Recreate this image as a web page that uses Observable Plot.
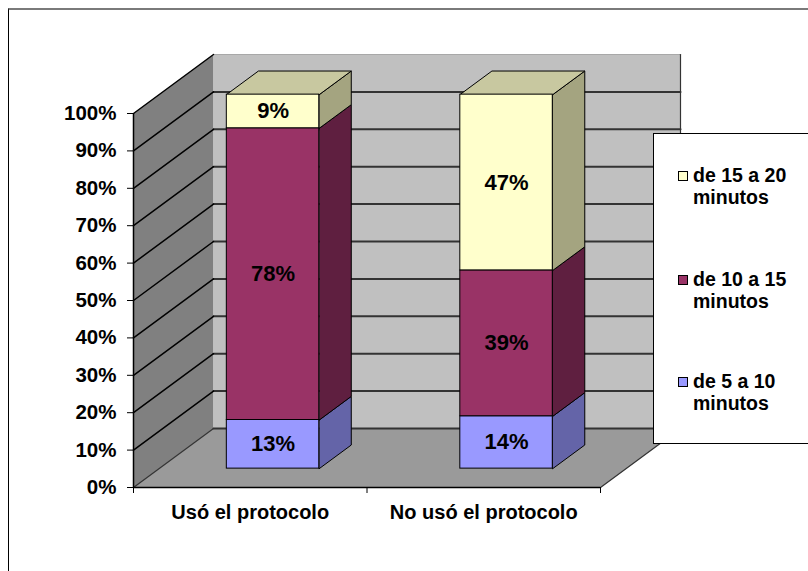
<!DOCTYPE html>
<html>
<head>
<meta charset="utf-8">
<script src="https://cdn.jsdelivr.net/npm/d3@7"></script>
<script src="https://cdn.jsdelivr.net/npm/@observablehq/plot@0.6"></script>
<style>
  body { margin: 0; background: #fff; }
  #wrap { position: relative; width: 808px; height: 571px; overflow: hidden;
          font-family: "Liberation Sans", Arial, sans-serif; font-weight: bold; }
  #chart { position: absolute; left: 0; top: 0; }
  #frame { position: absolute; left: 8px; top: 8px; width: 900px; height: 700px;
           border-top: 2px solid #7a7a7a; border-left: 1.5px solid #000; pointer-events: none; }
  #legend { position: absolute; left: 653px; top: 133px; width: 200px; height: 309px;
            border: 1px solid #000; background: #fff; }
  .item { position: absolute; left: 39px; font-size: 19.5px; line-height: 22px; color: #000; white-space: nowrap; }
  .sw { position: absolute; left: -15px; top: 7px; width: 8px; height: 8px; border: 1.5px solid #000; }
</style>
</head>
<body>
<div id="wrap">
  <div id="chart"></div>
  <div id="frame"></div>
  <div id="legend"></div>
</div>
<script>
// ---- data ----
const categories = ["Usó el protocolo", "No usó el protocolo"];
const seriesNames = ["de 5 a 10 minutos", "de 10 a 15 minutos", "de 15 a 20 minutos"];
const de5a10 = [13, 14];
const de10a15 = [78, 39];
const de15a20 = [9, 47];
const yTicks = [0, 10, 20, 30, 40, 50, 60, 70, 80, 90, 100];

// ---- styles ----
const frontColors = ["#9999ff", "#993366", "#ffffcc"];
const sideColors  = ["#6464a8", "#5f1f40", "#a4a480"];
const topColors   = ["#c4c4ff", "#b85888", "#c8c8a0"];

// ---- geometry (oblique 3D projection in data units) ----
const W = 808, H = 571, mL = 133, mR = 208, mT = 113, mB = 84;
const pxPerX = (W - mL - mR) / 2;
const pxPerY = (H - mT - mB) / 100;
const DX = 80 / pxPerX, DY = 59 / pxPerY;
const P = (x, y, z) => ({x: x + DX * z, y: y + DY * z});
const zFront = 0.32, zBack = 0.72, halfW = 0.198, shift = -0.012;

function poly(id, color, pts) {
  return pts.map(([x, y, z]) => ({id, color, ...P(x, y, z)}));
}
function seg(id, a, b) {
  return [{id, ...P(...a)}, {id, ...P(...b)}];
}

const walls = [
  ...poly("left", "#808080", [[0,0,0],[0,0,1],[0,100,1],[0,100,0]]),
  ...poly("back", "#c0c0c0", [[0,0,1],[2,0,1],[2,100,1],[0,100,1]]),
  ...poly("floor", "#9a9a9a", [[0,0,0],[2,0,0],[2,0,1],[0,0,1]])
];
const backGrid = yTicks.filter(v => v < 100).flatMap(v => seg("b" + v, [0, v, 1], [2, v, 1]));
const leftGrid = yTicks.filter(v => v > 0).flatMap(v => seg("l" + v, [0, v, 0], [0, v, 1]));
const edges = [
  ...seg("e1", [0, 0, 0], [0, 0, 1]),
  ...seg("e2", [2, 0, 0], [2, 0, 1]),
  ...seg("e3", [2, 0, 1], [2, 100, 1])
];
const topEdge = seg("t", [0, 100, 1], [2, 100, 1]);

const seriesValues = [de5a10, de10a15, de15a20];
const segs = [];
categories.forEach((cat, i) => {
  let base = 0;
  seriesValues.forEach((vals, s) => {
    const v = vals[i];
    segs.push({cat, i, s, value: v, y1: base, y2: base + v,
               c: i + 0.5 + shift, top: s === seriesValues.length - 1});
    base += v;
  });
});
const sides = segs.flatMap(d => {
  const xr = d.c + halfW;
  return poly(`side${d.i}-${d.s}`, sideColors[d.s],
    [[xr, d.y1, zFront], [xr, d.y1, zBack], [xr, d.y2, zBack], [xr, d.y2, zFront]]);
});
const tops = segs.filter(d => d.top).flatMap(d => {
  const xl = d.c - halfW, xr = d.c + halfW;
  return poly(`top${d.i}`, topColors[d.s],
    [[xl, d.y2, zFront], [xr, d.y2, zFront], [xr, d.y2, zBack], [xl, d.y2, zBack]]);
});

const chart = Plot.plot({
  width: W, height: H,
  marginLeft: mL, marginRight: mR, marginTop: mT, marginBottom: mB,
  x: {domain: [0, 2], label: null},
  y: {domain: [0, 100], label: null},
  color: {type: "identity"},
  style: {fontFamily: "'Liberation Sans', Arial, sans-serif", fontWeight: "bold",
          fontSize: "20.5px", background: "transparent", color: "#000"},
  marks: [
    Plot.line(walls, {x: "x", y: "y", z: "id", fill: "color", stroke: "none", curve: "linear-closed"}),
    Plot.line(topEdge, {x: "x", y: "y", z: "id", stroke: "#a8a8a8", strokeWidth: 1}),
    Plot.line(backGrid, {x: "x", y: "y", z: "id", stroke: "#333", strokeWidth: 2}),
    Plot.line(leftGrid, {x: "x", y: "y", z: "id", stroke: "#000", strokeWidth: 1.5}),
    Plot.line(edges, {x: "x", y: "y", z: "id", stroke: "#333", strokeWidth: 1.2}),
    Plot.ruleX([0], {y1: 0, y2: 100, stroke: "#000", strokeWidth: 1.5}),
    Plot.ruleY([0], {x1: 0, x2: 2, stroke: "#000", strokeWidth: 1.5}),
    Plot.line(sides, {x: "x", y: "y", z: "id", fill: "color", stroke: "#000", strokeWidth: 1, curve: "linear-closed"}),
    Plot.line(tops, {x: "x", y: "y", z: "id", fill: "color", stroke: "#000", strokeWidth: 1, curve: "linear-closed"}),
    Plot.rect(segs, {
      x1: d => d.c - halfW + DX * zFront, x2: d => d.c + halfW + DX * zFront,
      y1: d => d.y1 + DY * zFront, y2: d => d.y2 + DY * zFront,
      fill: d => frontColors[d.s], stroke: "#000", strokeWidth: 1
    }),
    Plot.text(segs, {
      x: d => d.c + DX * zFront, y: d => (d.y1 + d.y2) / 2 + DY * zFront,
      text: d => d.value + "%", fontSize: 22, fontWeight: "bold", fill: "#000"
    }),
    Plot.axisY({ticks: yTicks, tickFormat: d => d + "%", tickSize: 6, tickPadding: 11,
                label: null, fontSize: 20.5, fontWeight: "bold"}),
    Plot.axisX({ticks: [0, 1, 2], tickSize: 6, tickFormat: () => "", label: null}),
    Plot.text(categories, {x: (d, i) => i + 0.5, y: 0, dy: 25, text: d => d,
                           fontSize: 20, fontWeight: "bold", fill: "#000"})
  ]
});
document.getElementById("chart").appendChild(chart);

const legend = document.getElementById("legend");
const itemTops = [236, 134, 30];
seriesNames.forEach((name, s) => {
  const words = name.split(" ");
  const line2 = words.pop();
  const el = document.createElement("div");
  el.className = "item";
  el.style.top = itemTops[s] + "px";
  el.innerHTML = `<span class="sw" style="background:${frontColors[s]}"></span>${words.join(" ")}<br>${line2}`;
  legend.appendChild(el);
});
</script>
</body>
</html>
